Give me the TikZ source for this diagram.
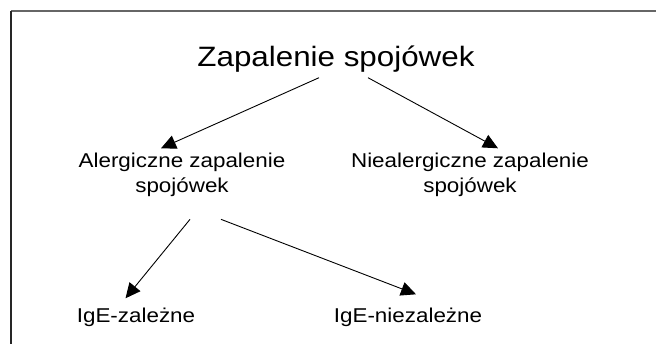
\documentclass[tikz,border=0pt]{standalone}
\usepackage{fontspec}
\setmainfont[FakeStretch=1.12]{Liberation Sans}
\usetikzlibrary{arrows.meta}
\begin{document}
\begin{tikzpicture}[x=1pt,y=1pt,
  arr/.style={line width=0.9pt,-{Triangle[length=15pt,width=14pt]}},
  txt/.style={inner sep=0pt,align=center,font=\fontsize{20}{25}\selectfont}]
  \useasboundingbox (0,0) rectangle (656,344);
  % frame
  \draw[line width=1.6pt,black!60] (11,333) -- (656,333);
  \draw[line width=1.3pt,black!85] (11,0) -- (11,333);
  \node[txt,font=\fontsize{28}{34}\selectfont,anchor=base] (top) at (336,277.3) {Zapalenie spojówek};
  \node[txt,anchor=base] (alerg) at (182,151) {Alergiczne zapalenie\\spojówek};
  \node[txt,anchor=base] (nonalerg) at (470,151) {Niealergiczne zapalenie\\spojówek};
  \node[txt,anchor=base] (ige) at (136,21) {IgE-zależne};
  \node[txt,anchor=base] (nonige) at (408,21) {IgE-niezależne};
  \draw[arr] ([shift={(-17,-5)}]top.south) -- ([shift={(-21,5)}]alerg.north);
  \draw[arr] ([shift={(32,-5)}]top.south) -- ([shift={(28,5)}]nonalerg.north);
  \draw[arr] ([shift={(8,-22)}]alerg.south) -- ([shift={(-10.5,10)}]ige.north);
  \draw[arr] ([shift={(39,-22)}]alerg.south) -- ([shift={(8,14)}]nonige.north);
\end{tikzpicture}
\end{document}
